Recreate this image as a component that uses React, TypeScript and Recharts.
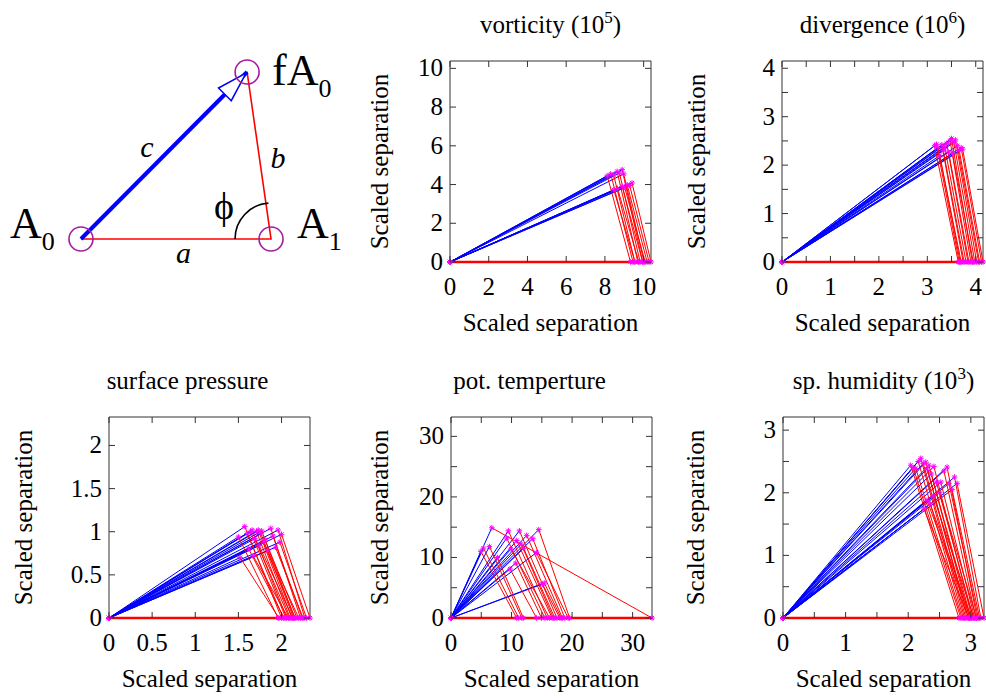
import React from 'react';
import { ComposedChart, Line, Scatter, XAxis, YAxis, ReferenceLine } from 'recharts';

// ---------- schematic (top-left) ----------
const diagramX = [0, 1, 0.874];          // A0, A1, fA0
const diagramY = [0, 0, 0.879];
const diagramNames = ['A', 'A', 'fA'];
const diagramSubs = ['0', '1', '0'];
const sideLabels = ['a', 'b', 'c'];
const angleLabel = '\u03D5';

// ---------- vorticity (10^5) ----------
const vortApexX = [8.12, 8.30, 8.45, 8.63, 8.75, 8.89, 8.97, 8.46, 8.65, 8.89, 9.02, 9.15, 9.28, 9.40];
const vortApexY = [4.45, 4.55, 4.50, 4.68, 4.60, 4.77, 4.55, 3.73, 3.80, 3.90, 3.85, 3.99, 3.95, 4.08];
const vortBaseX = [9.32, 9.45, 9.55, 9.70, 9.82, 9.95, 10.02, 9.55, 9.75, 9.95, 10.08, 10.18, 10.28, 10.38];
const vortTicks = [0, 2, 4, 6, 8, 10];
const vortTickLabels = ['0', '2', '4', '6', '8', '10'];

// ---------- divergence (10^6) ----------
const divApexX = [3.15, 3.19, 3.22, 3.26, 3.30, 3.33, 3.36, 3.40, 3.44, 3.47, 3.50, 3.52, 3.55, 3.58, 3.62, 3.66, 3.70, 3.73];
const divApexY = [2.40, 2.43, 2.36, 2.20, 2.42, 2.30, 2.38, 2.45, 2.27, 2.50, 2.55, 2.24, 2.47, 2.52, 2.40, 2.30, 2.36, 2.33];
const divBaseX = [3.64, 3.66, 3.70, 3.68, 3.74, 3.76, 3.80, 3.84, 3.86, 3.90, 3.93, 3.95, 3.98, 4.02, 4.06, 4.08, 4.12, 4.15];
const divTicks = [0, 0.5, 1, 1.5, 2, 2.5, 3, 3.5, 4];
const divTickLabels = ['0', '', '1', '', '2', '', '3', '', '4'];

// ---------- surface pressure ----------
const surfApexX = [1.50, 1.52, 1.574, 1.60, 1.62, 1.64, 1.66, 1.67, 1.69, 1.71, 1.73, 1.74, 1.76, 1.77, 1.79, 1.81, 1.84, 1.876, 1.90, 1.93, 1.96, 1.98, 2.00];
const surfApexY = [0.94, 0.70, 1.06, 0.98, 0.80, 1.00, 1.02, 0.72, 0.92, 1.00, 1.02, 0.84, 0.98, 1.01, 0.88, 0.905, 0.78, 1.04, 0.95, 0.82, 1.02, 0.88, 0.97];
const surfBaseX = [1.96, 1.97, 2.00, 2.02, 2.03, 2.05, 2.06, 2.08, 2.09, 2.10, 2.12, 2.13, 2.14, 2.15, 2.16, 2.18, 2.20, 2.22, 2.24, 2.25, 2.27, 2.29, 2.33];
const surfTicks = [0, 0.5, 1, 1.5, 2];
const surfTickLabels = ['0', '0.5', '1', '1.5', '2'];

// ---------- pot. temperture ----------
const potApexX = [6.74, 9.47, 11.3, 14.5, 5.36, 6.35, 4.93, 9.2, 10.85, 12.5, 13.5, 7.66, 9.9, 14.1, 10.7, 9.75, 15.1, 15.4, 12.0, 11.6];
const potApexY = [14.9, 14.4, 14.4, 14.6, 11.55, 11.8, 11.0, 13.2, 12.8, 13.65, 13.1, 10.0, 11.4, 10.8, 9.07, 8.1, 5.6, 5.8, 11.5, 12.2];
const potBaseX = [33.2, 15.9, 17.5, 19.6, 11.2, 11.7, 10.85, 15.5, 16.7, 18.4, 18.8, 11.95, 16.3, 19.35, 14.96, 14.14, 17.98, 18.2, 17.15, 16.9];
const potTicks = [0, 5, 10, 15, 20, 25, 30];
const potTickLabels = ['0', '', '10', '', '20', '', '30'];

// ---------- sp. humidity (10^3) ----------
const humApexX = [2.04, 2.08, 2.12, 2.16, 2.20, 2.24, 2.28, 2.30, 2.33, 2.37, 2.41, 2.25, 2.30, 2.35, 2.40, 2.45, 2.50, 2.52, 2.57, 2.62, 2.65, 2.70, 2.74, 2.78];
const humApexY = [2.44, 2.40, 2.39, 2.50, 2.55, 2.47, 2.49, 2.38, 2.44, 2.30, 2.42, 1.74, 1.88, 1.82, 1.95, 2.17, 2.00, 2.17, 2.35, 2.41, 2.15, 2.05, 2.25, 2.15];
const humBaseX = [2.81, 2.84, 2.86, 2.88, 2.90, 2.92, 2.94, 2.96, 2.98, 3.00, 3.02, 2.97, 2.99, 3.01, 3.05, 3.04, 3.09, 3.06, 3.08, 3.10, 3.12, 3.14, 3.16, 3.21];
const humTicks = [0, 0.5, 1, 1.5, 2, 2.5, 3];
const humTickLabels = ['0', '', '1', '', '2', '', '3'];

const axisTitle = 'Scaled separation';

// ---------- styles ----------
const FONT = "'Liberation Serif', 'Times New Roman', Times, serif";
const BLUE = '#0000ff';
const RED = '#ff0000';
const MAGENTA = '#ff00ff';
const PURPLE = '#a21ca2';
const FRAME = '#333333';
const FS = 25;
const YW = 100;
const XH = 75;
const TOP = 70;
const PLOT = 201;

const panels = [
  { key: 'vort', title: 'vorticity (10', sup: '5', tail: ')', ax: vortApexX, ay: vortApexY, bx: vortBaseX, ticks: vortTicks, labels: vortTickLabels, left: 450, top: 61, right: 20, yDist: 71, titleDx: 0 },
  { key: 'div', title: 'divergence (10', sup: '6', tail: ')', ax: divApexX, ay: divApexY, bx: divBaseX, ticks: divTicks, labels: divTickLabels, left: 782, top: 61, right: 3, yDist: 86, titleDx: 0 },
  { key: 'surf', title: 'surface pressure', sup: '', tail: '', ax: surfApexX, ay: surfApexY, bx: surfBaseX, ticks: surfTicks, labels: surfTickLabels, left: 109, top: 417, right: 20, yDist: 86, titleDx: -22 },
  { key: 'pot', title: 'pot. temperture', sup: '', tail: '', ax: potApexX, ay: potApexY, bx: potBaseX, ticks: potTicks, labels: potTickLabels, left: 451, top: 417, right: 20, yDist: 72, titleDx: -22 },
  { key: 'hum', title: 'sp. humidity (10', sup: '3', tail: ')', ax: humApexX, ay: humApexY, bx: humBaseX, ticks: humTicks, labels: humTickLabels, left: 783, top: 417, right: 3, yDist: 88, titleDx: 0 },
];

function buildSeries(ax: number[], ay: number[], bx: number[]) {
  const blue: any[] = [];
  const red: any[] = [];
  const marks: any[] = [];
  ax.forEach((x, i) => {
    blue.push({ x: 0, y: 0 }, { x, y: ay[i] }, { x, y: null });
    red.push({ x, y: ay[i] }, { x: bx[i], y: 0 }, { x: bx[i], y: null });
    marks.push({ x: 0, y: 0 }, { x, y: ay[i] }, { x: bx[i], y: 0 });
  });
  const base = [{ x: 0, y: 0 }, ...[...bx].sort((p, q) => p - q).map((b) => ({ x: b, y: 0 }))];
  return { blue, red, base, marks };
}

const Star = (p: any) => {
  const { cx, cy } = p;
  if (cx == null || cy == null) return <g />;
  const s = 2.8;
  const d = s * 0.72;
  return (
    <g stroke={MAGENTA} strokeWidth={1}>
      <line x1={cx - s} y1={cy} x2={cx + s} y2={cy} />
      <line x1={cx} y1={cy - s} x2={cx} y2={cy + s} />
      <line x1={cx - d} y1={cy - d} x2={cx + d} y2={cy + d} />
      <line x1={cx - d} y1={cy + d} x2={cx + d} y2={cy - d} />
    </g>
  );
};

const NoShape = () => <g />;

const makeXTick = (ticks: number[], labels: string[]) => (p: any) => {
  const { x, y, payload } = p;
  const idx = ticks.indexOf(payload.value);
  const lab = idx >= 0 ? labels[idx] : '';
  return (
    <g>
      <line x1={x} y1={y} x2={x} y2={y - 6} stroke={FRAME} />
      <line x1={x} y1={y - PLOT} x2={x} y2={y - PLOT + 6} stroke={FRAME} />
      {lab ? (
        <text x={x} y={y + 33} textAnchor="middle" fontFamily={FONT} fontSize={FS} fill="#000">{lab}</text>
      ) : null}
    </g>
  );
};

const makeYTick = (ticks: number[], labels: string[]) => (p: any) => {
  const { x, y, payload } = p;
  const idx = ticks.indexOf(payload.value);
  const lab = idx >= 0 ? labels[idx] : '';
  return (
    <g>
      <line x1={x} y1={y} x2={x + 6} y2={y} stroke={FRAME} />
      <line x1={x + PLOT} y1={y} x2={x + PLOT - 6} y2={y} stroke={FRAME} />
      {lab ? (
        <text x={x - 7} y={y + 8} textAnchor="end" fontFamily={FONT} fontSize={FS} fill="#000">{lab}</text>
      ) : null}
    </g>
  );
};

function Panel({ cfg }: { cfg: any }) {
  const { blue, red, base, marks } = buildSeries(cfg.ax, cfg.ay, cfg.bx);
  const max = Math.max(...cfg.bx);
  const titleContent = (p: any) => {
    const vb = p.viewBox;
    const cx = vb.x + vb.width / 2 + cfg.titleDx;
    return (
      <text x={cx} y={vb.y - 28} textAnchor="middle" fontFamily={FONT} fontSize={FS} fill="#000">
        <tspan>{cfg.title}</tspan>
        {cfg.sup ? <tspan dy={-10} fontSize={17}>{cfg.sup}</tspan> : null}
        {cfg.sup ? <tspan dy={10}>{cfg.tail}</tspan> : null}
      </text>
    );
  };
  const xLabel = (p: any) => {
    const vb = p.viewBox;
    return (
      <text x={vb.x + vb.width / 2} y={vb.y + 69} textAnchor="middle" fontFamily={FONT} fontSize={FS} fill="#000">{axisTitle}</text>
    );
  };
  const yLabel = (p: any) => {
    const vb = p.viewBox;
    const cx = vb.x + vb.width - cfg.yDist;
    const cy = vb.y + vb.height / 2;
    return (
      <text x={cx} y={cy} transform={`rotate(-90 ${cx} ${cy})`} textAnchor="middle" dominantBaseline="central" fontFamily={FONT} fontSize={FS} fill="#000">{axisTitle}</text>
    );
  };
  return (
    <div style={{ position: 'absolute', left: cfg.left - YW, top: cfg.top - TOP }}>
      <ComposedChart width={YW + PLOT + cfg.right} height={TOP + PLOT + XH} margin={{ top: TOP, right: cfg.right, bottom: 0, left: 0 }}>
        <XAxis type="number" dataKey="x" domain={[0, max]} ticks={cfg.ticks} interval={0} height={XH}
          tickSize={0} tickMargin={0} tickLine={false} axisLine={{ stroke: FRAME }}
          tick={makeXTick(cfg.ticks, cfg.labels)} label={xLabel} />
        <YAxis type="number" dataKey="y" domain={[0, max]} ticks={cfg.ticks} interval={0} width={YW}
          tickSize={0} tickMargin={0} tickLine={false} axisLine={{ stroke: FRAME }}
          tick={makeYTick(cfg.ticks, cfg.labels)} label={yLabel} />
        <ReferenceLine y={max} stroke={FRAME} strokeWidth={1} ifOverflow="visible" label={titleContent} />
        <ReferenceLine x={max} stroke={FRAME} strokeWidth={1} ifOverflow="visible" />
        <Line data={blue} dataKey="y" type="linear" stroke={BLUE} strokeWidth={1} dot={false} activeDot={false} connectNulls={false} isAnimationActive={false} />
        <Line data={red} dataKey="y" type="linear" stroke={RED} strokeWidth={1} dot={false} activeDot={false} connectNulls={false} isAnimationActive={false} />
        <Scatter data={base} shape={NoShape} line={{ stroke: RED, strokeWidth: 2.6 }} lineType="joint" isAnimationActive={false} />
        <Scatter data={marks} fill={MAGENTA} shape={Star} isAnimationActive={false} />
      </ComposedChart>
    </div>
  );
}

// ---------- schematic shapes ----------
const nodeLabelOffsets = [[-71, -1], [26, -1], [25, 13]];
const sideLabelOffsets: Record<string, number[]> = { a: [7.5, 24], b: [19, 12.5], c: [-17, 1.5] };

const NodeShape = (p: any) => {
  const { cx, cy, payload } = p;
  const off = nodeLabelOffsets[payload.i];
  return (
    <g>
      <circle cx={cx} cy={cy} r={12} fill="none" stroke={PURPLE} strokeWidth={1.6} />
      <text x={cx + off[0]} y={cy + off[1]} fontFamily={FONT} fontSize={44} fill="#000">
        {payload.name}
        <tspan dy={12} fontSize={26}>{payload.sub}</tspan>
      </text>
    </g>
  );
};

const SideShape = (p: any) => {
  const { cx, cy, payload } = p;
  const off = sideLabelOffsets[payload.label];
  return (
    <text x={cx + off[0]} y={cy + off[1]} textAnchor="middle" fontFamily={FONT} fontStyle="italic" fontSize={30} fill="#000">{payload.label}</text>
  );
};

const ArrowHead = (p: any) => {
  const { cx, cy } = p;
  const dx = diagramX[2] - diagramX[0];
  const dy = diagramY[2] - diagramY[0];
  const len = Math.hypot(dx, dy);
  const ux = dx / len;
  const uy = -dy / len;
  const tx = cx - ux * 1.5;
  const ty = cy - uy * 1.5;
  const bx = tx - ux * 30;
  const by = ty - uy * 30;
  const px = -uy;
  const py = ux;
  const pts = `${tx},${ty} ${bx + px * 9},${by + py * 9} ${bx - px * 9},${by - py * 9}`;
  return <polygon points={pts} fill="#ffffff" stroke={BLUE} strokeWidth={1.5} />;
};

const AngleShape = (p: any) => {
  const { cx, cy } = p;
  const r = 36;
  const dx = diagramX[2] - diagramX[1];
  const dy = diagramY[2] - diagramY[1];
  const ang = Math.atan2(-dy, dx) + (4 * Math.PI) / 180;
  const sx = cx - r;
  const sy = cy;
  const ex = cx + r * Math.cos(ang);
  const ey = cy + r * Math.sin(ang);
  return (
    <g>
      <path d={`M ${sx} ${sy} A ${r} ${r} 0 0 1 ${ex} ${ey}`} fill="none" stroke="#000" strokeWidth={1.6} />
      <text x={cx - 47} y={cy - 20} textAnchor="middle" fontFamily={FONT} fontSize={38} fill="#000">{angleLabel}</text>
    </g>
  );
};

function Diagram() {
  const pts = diagramX.map((x, i) => ({ x, y: diagramY[i], name: diagramNames[i], sub: diagramSubs[i], i }));
  const redPath = [pts[0], pts[1], pts[2]];
  const arrow = [pts[0], pts[2]];
  const pairs = [[0, 1], [1, 2], [0, 2]];
  const mids = pairs.map((pr, k) => ({
    x: (pts[pr[0]].x + pts[pr[1]].x) / 2,
    y: (pts[pr[0]].y + pts[pr[1]].y) / 2,
    label: sideLabels[k],
  }));
  return (
    <div style={{ position: 'absolute', left: 0, top: 0 }}>
      <ComposedChart width={360} height={300} margin={{ top: 0, right: 0, bottom: 0, left: 0 }}>
        <XAxis type="number" dataKey="x" domain={[-0.426, 1.468]} hide />
        <YAxis type="number" dataKey="y" domain={[-0.321, 1.258]} hide />
        <Line data={redPath} dataKey="y" type="linear" stroke={RED} strokeWidth={1.6} dot={false} activeDot={false} isAnimationActive={false} />
        <Line data={arrow} dataKey="y" type="linear" stroke={BLUE} strokeWidth={4} dot={false} activeDot={false} isAnimationActive={false} />
        <Scatter data={[pts[2]]} shape={ArrowHead} isAnimationActive={false} />
        <Scatter data={[pts[1]]} shape={AngleShape} isAnimationActive={false} />
        <Scatter data={pts} shape={NodeShape} isAnimationActive={false} />
        <Scatter data={mids} shape={SideShape} isAnimationActive={false} />
      </ComposedChart>
    </div>
  );
}

export default function App() {
  return (
    <div style={{ position: 'absolute', left: 0, top: 0, width: 986, height: 698, overflow: 'hidden', background: '#ffffff' }}>
      <Diagram />
      {panels.map((cfg) => (
        <Panel key={cfg.key} cfg={cfg} />
      ))}
    </div>
  );
}
